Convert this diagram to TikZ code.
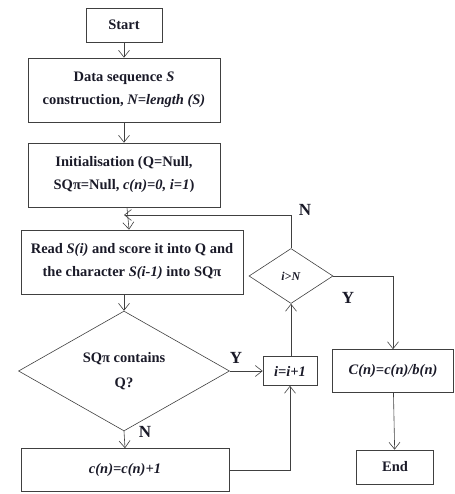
\documentclass[tikz,border=0pt]{standalone}
\usepackage{fontspec}
\setmainfont{Liberation Serif}
\usetikzlibrary{arrows.meta,positioning,shapes.geometric}
\definecolor{linegray}{HTML}{404040}
\definecolor{textink}{HTML}{1A1A28}
\tikzset{
       arr/.style = {-{Straight Barb[length=7pt,width=11pt]}, draw=linegray, semithick},
      base/.style = {draw=linegray, semithick, text=textink,
                     font=\fontsize{14.5}{23}\selectfont\bfseries, align=center,
                     inner sep=0pt},
   process/.style = {base, rectangle},
  decision/.style = {base, diamond},
    answer/.style = {font=\fontsize{17}{17}\selectfont\bfseries, text=textink},
        }

\begin{document}
\begin{tikzpicture}[x=1pt,y=-1pt]
  \useasboundingbox (0,0) rectangle (454,494);

  \node[process, minimum width=76, minimum height=34] (start) at (124,25) {Start};
  \node[process, minimum width=192, minimum height=64] (data) at (124,90)
       {Data sequence \textit{S}\\ construction, \textit{N=length (S)}};
  \node[process, minimum width=192, minimum height=64] (init) at (124,175)
       {Initialisation (Q=Null,\\ SQπ=Null, \textit{c(n)=0, i=1})};
  \node[process, minimum width=222, minimum height=64] (read) at (132,262)
       {Read \textit{S(i)} and score it into Q and\\ the character \textit{S(i-1)} into SQπ};
  \node[decision, minimum width=211, minimum height=111, font=\fontsize{14.5}{25}\selectfont\bfseries] (sq) at (124,371)
       {SQπ contains\\ Q?};
  \node[process, minimum width=208, minimum height=43] (count) at (125,470) {\textit{c(n)=c(n)+1}};
  \node[process, minimum width=54, minimum height=29] (inc) at (290,371) {\textit{i=i+1}};
  \node[decision, minimum width=84, minimum height=55, font=\fontsize{12}{13}\selectfont\bfseries] (test) at (291,276) {\textit{i>N}};
  \node[process, minimum width=121, minimum height=43] (ratio) at (393,371) {\textit{C(n)=c(n)/b(n)}};
  \node[process, minimum width=77, minimum height=34] (stop) at (395,467) {End};

  \coordinate (back) at (124,215);

  \draw[arr] (start) -- (data);
  \draw[arr] (data) -- (init);
  \draw[arr] (init) -- (read);
  \draw[arr] (read.south -| sq.north) -- (sq.north);
  \draw[arr] (sq.east) -- (inc.west);
  \draw[arr] (sq.south) -- (count.north);
  \draw[arr] (count.east) -| (inc.south);
  \draw[arr] (inc.north -| test.south) -- (test.south);
  \draw[arr] (test.north) |- (back);
  \draw[arr] (test.east) -| (ratio.north);
  \draw[arr] (ratio) -- (stop);

  \node[answer] (noloop) at (305,210) {N};
  \node[answer] (yesend) at (348,298) {Y};
  \node[answer] (yesinc) at (236,358) {Y};
  \node[answer] (nocount) at (145,432) {N};
\end{tikzpicture}
\end{document}
